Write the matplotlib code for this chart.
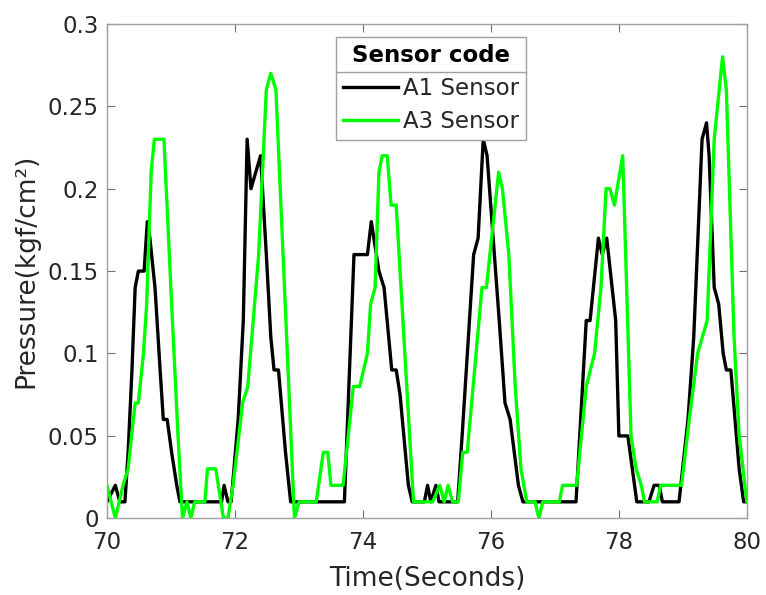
import matplotlib
matplotlib.use("Agg")
import matplotlib.pyplot as plt
from matplotlib.lines import Line2D

# A1 sensor (black) - time (s), pressure (kgf/cm2)
t_a1 = [70.00, 70.13, 70.20, 70.28, 70.33, 70.39, 70.44, 70.49, 70.58, 70.63,
        70.67, 70.75, 70.83, 70.88, 70.94, 71.01, 71.09, 71.14, 71.79, 71.83,
        71.89, 71.94, 72.05, 72.13, 72.19, 72.25, 72.40, 72.49, 72.56, 72.61,
        72.68, 72.79, 72.87, 73.71, 73.86, 74.07, 74.13, 74.25, 74.33, 74.45,
        74.52, 74.58, 74.71, 74.77, 74.96, 75.01, 75.06, 75.14, 75.19, 75.48,
        75.55, 75.73, 75.80, 75.88, 75.94, 76.13, 76.22, 76.30, 76.43, 76.50,
        77.33, 77.49, 77.55, 77.68, 77.74, 77.81, 77.95, 78.00, 78.14, 78.28,
        78.47, 78.55, 78.63, 78.68, 78.94, 79.08, 79.17, 79.30, 79.37, 79.41,
        79.49, 79.56, 79.63, 79.68, 79.75, 79.88, 79.95, 80.00]
p_a1 = [0.01, 0.02, 0.01, 0.01, 0.04, 0.09, 0.14, 0.15, 0.15, 0.18,
        0.17, 0.14, 0.09, 0.06, 0.06, 0.04, 0.02, 0.01, 0.01, 0.02,
        0.01, 0.01, 0.06, 0.12, 0.23, 0.20, 0.22, 0.16, 0.11, 0.09,
        0.09, 0.04, 0.01, 0.01, 0.16, 0.16, 0.18, 0.15, 0.14, 0.09,
        0.09, 0.075, 0.02, 0.01, 0.01, 0.02, 0.01, 0.02, 0.01, 0.01,
        0.05, 0.16, 0.17, 0.23, 0.22, 0.12, 0.07, 0.06, 0.02, 0.01,
        0.01, 0.12, 0.12, 0.17, 0.16, 0.17, 0.12, 0.05, 0.05, 0.01,
        0.01, 0.02, 0.02, 0.01, 0.01, 0.06, 0.11, 0.23, 0.24, 0.22,
        0.14, 0.13, 0.10, 0.09, 0.09, 0.03, 0.01, 0.01]

# A3 sensor (green)
t_a3 = [70.00, 70.13, 70.25, 70.33, 70.44, 70.49, 70.57, 70.62, 70.69, 70.74,
        70.89, 71.01, 71.11, 71.18, 71.25, 71.31, 71.37, 71.53, 71.57, 71.70,
        71.82, 71.89, 71.97, 72.12, 72.20, 72.37, 72.49, 72.56, 72.64, 72.93,
        73.00, 73.27, 73.38, 73.45, 73.50, 73.69, 73.85, 73.95, 74.07, 74.12,
        74.19, 74.25, 74.30, 74.38, 74.44, 74.52, 74.79, 75.09, 75.20, 75.27,
        75.33, 75.40, 75.49, 75.56, 75.63, 75.86, 75.93, 76.12, 76.18, 76.28,
        76.38, 76.47, 76.56, 76.69, 76.75, 76.81, 77.07, 77.12, 77.34, 77.49,
        77.62, 77.72, 77.80, 77.86, 77.93, 78.06, 78.19, 78.27, 78.35, 78.40,
        78.60, 78.65, 78.98, 79.10, 79.23, 79.38, 79.49, 79.62, 79.68, 79.80,
        79.88, 80.00]
p_a3 = [0.02, 0.00, 0.02, 0.03, 0.07, 0.07, 0.10, 0.13, 0.21, 0.23,
        0.23, 0.13, 0.05, 0.00, 0.01, 0.00, 0.01, 0.01, 0.03, 0.03,
        0.00, 0.00, 0.02, 0.07, 0.08, 0.16, 0.26, 0.27, 0.26, 0.00,
        0.01, 0.01, 0.04, 0.04, 0.02, 0.02, 0.08, 0.08, 0.10, 0.13,
        0.14, 0.21, 0.22, 0.22, 0.19, 0.19, 0.01, 0.01, 0.02, 0.01,
        0.02, 0.01, 0.01, 0.04, 0.04, 0.14, 0.14, 0.21, 0.20, 0.16,
        0.08, 0.03, 0.01, 0.01, 0.00, 0.01, 0.01, 0.02, 0.02, 0.08,
        0.10, 0.14, 0.20, 0.20, 0.19, 0.22, 0.05, 0.03, 0.02, 0.01,
        0.01, 0.02, 0.02, 0.06, 0.10, 0.12, 0.23, 0.28, 0.26, 0.11,
        0.05, 0.01]

x_ticks = [70, 72, 74, 76, 78, 80]
y_ticks = [0, 0.05, 0.1, 0.15, 0.2, 0.25, 0.3]
y_tick_labels = ["0", "0.05", "0.1", "0.15", "0.2", "0.25", "0.3"]

text_col = "#262626"
axis_col = "#a0a0a0"

fig = plt.figure(figsize=(7.66, 5.95), dpi=100)
ax = fig.add_axes([0.1397, 0.1289, 0.8353, 0.831])

ax.plot(t_a1, p_a1, color="black", lw=2.4, label="A1 Sensor")
ax.plot(t_a3, p_a3, color="#00ff00", lw=2.4, label="A3 Sensor")

ax.set_xlim(70, 80)
ax.set_ylim(0, 0.3)
ax.set_xticks(x_ticks)
ax.set_xticklabels([str(v) for v in x_ticks])
ax.set_yticks(y_ticks)
ax.set_yticklabels(y_tick_labels)

for s in ax.spines.values():
    s.set_color(axis_col)
    s.set_linewidth(1.0)
ax.tick_params(direction="in", top=True, right=True, length=6, width=0.8,
               color="#707070", labelsize=16.5, labelcolor=text_col)
ax.tick_params(axis="x", pad=9)
ax.tick_params(axis="y", pad=6)

ax.set_xlabel("Time(Seconds)", fontsize=19, color=text_col, labelpad=9)
ax.set_ylabel("Pressure(kgf/cm²)", fontsize=19, color=text_col, labelpad=6)

leg = ax.legend(loc="upper left", bbox_to_anchor=(0.358, 0.9735),
                borderaxespad=0, fontsize=16.5, title="Sensor code",
                title_fontproperties={"weight": "bold", "size": 16.5},
                fancybox=False, framealpha=1, edgecolor=axis_col,
                handlelength=2.4, handletextpad=0.2, borderpad=0.3,
                labelspacing=0.45)
leg.get_frame().set_linewidth(1.0)
for txt in leg.get_texts():
    txt.set_color(text_col)

# separator line under the legend title
fig.canvas.draw()
lb = leg.get_window_extent()
tb = leg.get_title().get_window_extent()
first = leg.get_texts()[0].get_window_extent()
ysep = (tb.y0 + first.y1) / 2
inv = fig.transFigure.inverted()
(x0, y0) = inv.transform((lb.x0, ysep))
(x1, _) = inv.transform((lb.x1, ysep))
fig.add_artist(Line2D([x0, x1], [y0, y0], transform=fig.transFigure,
                      color=axis_col, lw=1.0))

fig.savefig("out.png", dpi=100)
